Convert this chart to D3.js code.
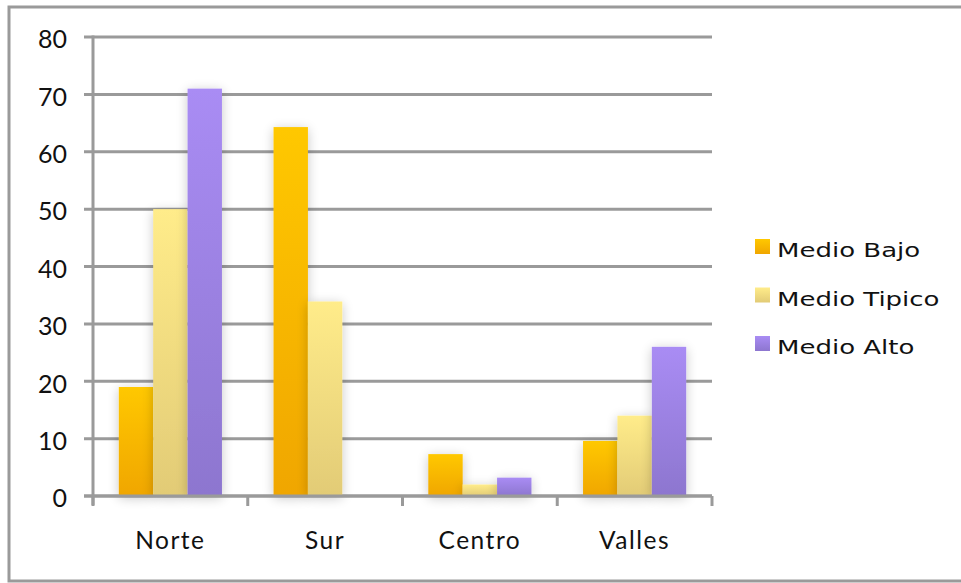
<!DOCTYPE html>
<html>
<head>
<meta charset="utf-8">
<script src="https://cdn.jsdelivr.net/npm/d3@7"></script>
<style>
  html, body { margin: 0; padding: 0; background: #fff; }
  svg { display: block; }
  text { font-family: Lato, "DejaVu Sans", sans-serif; fill: #111; }
</style>
</head>
<body>
<svg id="chart" width="961" height="583"></svg>
<script>
// Regions and income-level series
const categories = ["Norte", "Sur", "Centro", "Valles"];
const seriesNames = ["Medio Bajo", "Medio Tipico", "Medio Alto"];
const medioBajo   = [19, 64.3, 7.3, 9.6];
const medioTipico = [50, 33.9, 2.0, 14];
const medioAlto   = [71, 0, 3.2, 26];
const yTicks = [0, 10, 20, 30, 40, 50, 60, 70, 80];

const seriesValues = [medioBajo, medioTipico, medioAlto];
const palette = [
  { top: "#FFC800", bottom: "#F0A600" },
  { top: "#FFEC8A", bottom: "#E2CB76" },
  { top: "#A98CF4", bottom: "#8D76CF" }
];

const svg = d3.select("#chart");
const W = 961, H = 583;
const plot = { left: 93, right: 712, top: 37, bottom: 496 };

// Outer frame of the chart area
svg.append("rect")
  .attr("x", 9).attr("y", 7)
  .attr("width", W + 20).attr("height", 574)
  .attr("fill", "#fff")
  .attr("stroke", "#9a9a9a").attr("stroke-width", 3);

const defs = svg.append("defs");
palette.forEach((c, i) => {
  const g = defs.append("linearGradient")
    .attr("id", "grad" + i)
    .attr("x1", 0).attr("y1", 0).attr("x2", 0).attr("y2", 1);
  g.append("stop").attr("offset", "0%").attr("stop-color", c.top);
  g.append("stop").attr("offset", "100%").attr("stop-color", c.bottom);
});
const shadow = defs.append("filter").attr("id", "soft")
  .attr("x", "-40%").attr("y", "-10%").attr("width", "180%").attr("height", "120%");
shadow.append("feGaussianBlur").attr("in", "SourceAlpha").attr("stdDeviation", 6).attr("result", "b");
shadow.append("feOffset").attr("in", "b").attr("dx", 0).attr("dy", 2).attr("result", "o");
shadow.append("feComponentTransfer").attr("in", "o").attr("result", "s")
  .append("feFuncA").attr("type", "linear").attr("slope", 0.22);
const merge = shadow.append("feMerge");
merge.append("feMergeNode").attr("in", "s");
merge.append("feMergeNode").attr("in", "SourceGraphic");

const x0 = d3.scaleBand().domain(categories).range([plot.left, plot.right]).padding(0);
const bw = x0.bandwidth();
const gap = bw * 0.75 / 4.5;   // 150% gap width split on both sides
const x1 = d3.scaleBand().domain(seriesNames).range([gap, bw - gap]).padding(0);
const y = d3.scaleLinear().domain([0, 80]).range([plot.bottom, plot.top]);

const gridColor = "#9a9a9a";

// Horizontal gridlines with left tick stubs
svg.append("g").selectAll("line").data(yTicks).join("line")
  .attr("x1", plot.left - 9).attr("x2", plot.right)
  .attr("y1", d => y(d)).attr("y2", d => y(d))
  .attr("stroke", gridColor).attr("stroke-width", 3);

// Y tick labels
svg.append("g").selectAll("text").data(yTicks).join("text")
  .attr("x", 67).attr("y", d => y(d))
  .attr("dy", "0.45em")
  .attr("text-anchor", "end")
  .attr("font-size", 25)
  .text(d => d);

// Bars
const bars = svg.append("g");
seriesNames.forEach((s, si) => {
  bars.append("g").attr("filter", "url(#soft)")
    .selectAll("rect")
    .data(categories.map((c, ci) => ({ c, v: seriesValues[si][ci] })).filter(d => d.v > 0))
    .join("rect")
    .attr("x", d => x0(d.c) + x1(s))
    .attr("y", d => y(d.v))
    .attr("width", x1.bandwidth())
    .attr("height", d => y(0) - y(d.v))
    .attr("fill", "url(#grad" + si + ")");
});

// Y axis line
svg.append("line")
  .attr("x1", plot.left).attr("x2", plot.left)
  .attr("y1", plot.top - 1.5).attr("y2", plot.bottom + 9)
  .attr("stroke", gridColor).attr("stroke-width", 3);

// X axis line and category boundary ticks
svg.append("line")
  .attr("x1", plot.left - 9).attr("x2", plot.right)
  .attr("y1", plot.bottom).attr("y2", plot.bottom)
  .attr("stroke", gridColor).attr("stroke-width", 3);
const bounds = categories.map(c => x0(c)).concat([plot.right]);
svg.append("g").selectAll("line").data(bounds).join("line")
  .attr("x1", d => d).attr("x2", d => d)
  .attr("y1", plot.bottom).attr("y2", plot.bottom + 10)
  .attr("stroke", gridColor).attr("stroke-width", 3);

// Category labels
svg.append("g").selectAll("text").data(categories).join("text")
  .attr("x", d => x0(d) + bw / 2)
  .attr("y", 549)
  .attr("text-anchor", "middle")
  .attr("font-size", 24.5)
  .attr("letter-spacing", 1.5)
  .text(d => d);

// Legend (wide geometric lettering, stretched horizontally)
const legend = svg.append("g").attr("transform", "translate(755,239)");
seriesNames.forEach((s, i) => {
  const row = legend.append("g").attr("transform", `translate(0,${i * 48.5})`);
  row.append("rect").attr("width", 15).attr("height", 15)
    .attr("fill", "url(#grad" + i + ")");
  row.append("text")
    .attr("transform", "translate(22,18) scale(1.3,1)")
    .style("font-family", "'DejaVu Sans', sans-serif")
    .attr("font-size", 20)
    .text(s);
});
</script>
</body>
</html>
